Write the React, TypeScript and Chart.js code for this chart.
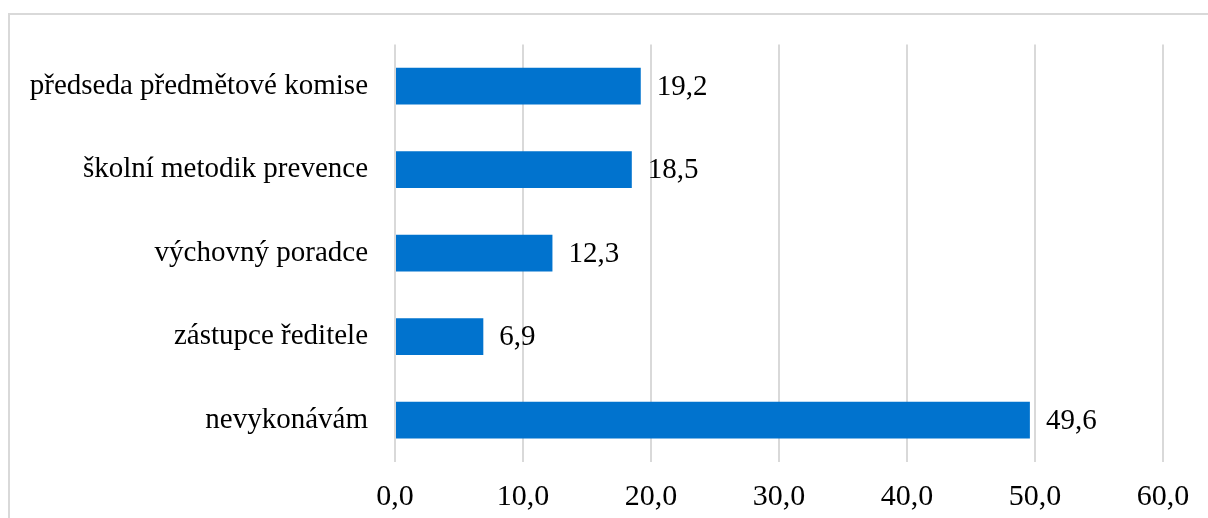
import React, { useEffect, useRef } from "react";
import { Chart, registerables } from "chart.js";

Chart.register(...registerables);

const categories = [
  "předseda předmětové komise",
  "školní metodik prevence",
  "výchovný poradce",
  "zástupce ředitele",
  "nevykonávám",
];
const values = [19.2, 18.5, 12.3, 6.9, 49.6];
const xMax = 60;
const xStep = 10;

const FONT = "'Liberation Serif', 'Times New Roman', serif";

const fmt = (v: number) => v.toFixed(1).replace(".", ",");

const valueLabels = {
  id: "valueLabels",
  afterDatasetsDraw(chart: any) {
    const ctx = chart.ctx;
    const meta = chart.getDatasetMeta(0);
    ctx.save();
    ctx.font = `29px ${FONT}`;
    ctx.fillStyle = "#000";
    ctx.textAlign = "left";
    ctx.textBaseline = "middle";
    meta.data.forEach((el: any, i: number) => {
      ctx.fillText(fmt(values[i]), el.x + 16, el.y + 1);
    });
    ctx.restore();
  },
};

export default function App() {
  const ref = useRef<HTMLCanvasElement>(null);
  useEffect(() => {
    if (!ref.current) return;
    const chart = new Chart(ref.current, {
      type: "bar",
      data: {
        labels: categories,
        datasets: [
          {
            data: values,
            backgroundColor: "#0173CE",
            borderWidth: 0,
            categoryPercentage: 1,
            barPercentage: 0.44,
          },
        ],
      },
      options: {
        indexAxis: "y",
        responsive: false,
        animation: false,
        layout: { padding: { left: 0, right: 45, top: 43, bottom: 0 } },
        plugins: { legend: { display: false }, tooltip: { enabled: false } },
        scales: {
          x: {
            min: 0,
            max: xMax,
            ticks: {
              stepSize: xStep,
              color: "#000",
              font: { family: FONT, size: 30 },
              padding: 17,
              callback: (v: any) => fmt(Number(v)),
              maxRotation: 0,
            },
            grid: { color: "#d9d9d9", lineWidth: 2, drawTicks: false },
            border: { display: false },
            afterFit: (s: any) => {
              s.height = 56;
            },
          },
          y: {
            ticks: {
              color: "#000",
              font: { family: FONT, size: 29 },
              padding: 27,
            },
            grid: { display: false, drawTicks: false },
            border: { display: false },
            afterFit: (s: any) => {
              s.width = 395;
            },
          },
        },
      },
      plugins: [valueLabels],
    });
    return () => chart.destroy();
  }, []);
  return (
    <div style={{ position: "fixed", left: 0, top: 0, width: 1208, height: 518, background: "#fff", overflow: "hidden" }}>
      <div
        style={{
          position: "absolute",
          left: 8,
          top: 13,
          width: 1400,
          height: 700,
          border: "2px solid #d9d9d9",
          boxSizing: "border-box",
        }}
      />
      <canvas ref={ref} width={1208} height={518} style={{ position: "absolute", left: 0, top: 0 }} />
    </div>
  );
}
